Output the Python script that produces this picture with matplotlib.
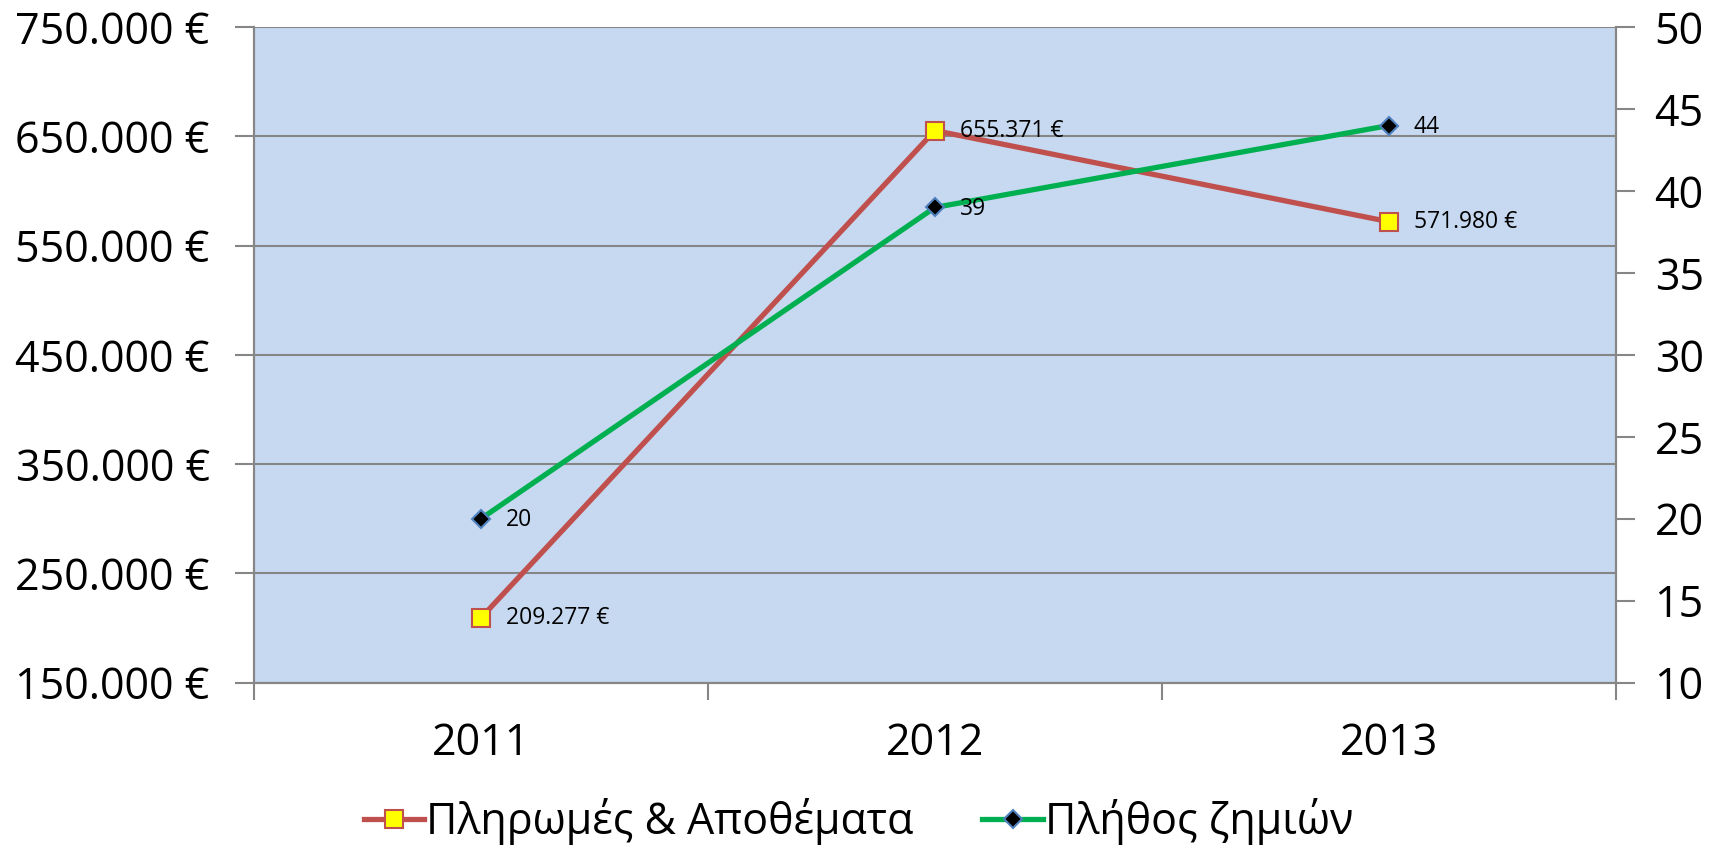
import matplotlib
matplotlib.use("Agg")
import matplotlib.pyplot as plt
from matplotlib.ticker import FuncFormatter, MultipleLocator, FixedLocator, NullFormatter

plt.rcParams['font.family'] = ['Open Sans', 'DejaVu Sans']

years = ["2011", "2012", "2013"]
payments = [209277, 655371, 571980]
claims = [20, 39, 44]
pay_name = "Πληρωμές & Αποθέματα"
claims_name = "Πλήθος ζημιών"

def euro(v):
    return "{:,.0f} €".format(v).replace(",", ".")

fig = plt.figure(figsize=(17.17, 8.51), dpi=100)
ax = fig.add_axes([0.148, 0.198, 0.793, 0.770])
ax2 = ax.twinx()

grey = "#868686"
ax.set_facecolor("#C6D9F1")
x = list(range(len(years)))

ax.set_xlim(-0.5, len(years) - 0.5)
ax.set_ylim(150000, 750000)
ax.yaxis.set_major_locator(FixedLocator(range(150000, 750001, 100000)))
ax.yaxis.set_major_formatter(FuncFormatter(lambda v, p: euro(v)))
ax.grid(axis="y", color=grey, linewidth=1.5)
ax.set_axisbelow(True)
ax2.set_ylim(10, 50)
ax2.yaxis.set_major_locator(MultipleLocator(5))

ax.xaxis.set_major_locator(FixedLocator([i - 0.5 for i in range(len(years) + 1)]))
ax.xaxis.set_major_formatter(NullFormatter())
ax.xaxis.set_minor_locator(FixedLocator(x))
ax.xaxis.set_minor_formatter(FuncFormatter(lambda v, p: years[int(round(v))]))
ax.tick_params(axis="x", which="minor", length=0, pad=28, labelsize=31)
ax.tick_params(axis="x", which="major", length=12, width=1.5, color=grey)
ax.tick_params(axis="y", length=14, width=1.5, color=grey, labelsize=31, pad=18)
ax2.tick_params(axis="y", length=14, width=1.5, color=grey, labelsize=31, pad=14)

for a in (ax, ax2):
    for s in a.spines.values():
        s.set_color(grey)
        s.set_linewidth(1.5)
    a.spines["top"].set_visible(False)

l1, = ax.plot(x, payments, color="#C0504D", linewidth=3.8, marker="s",
              markersize=13, markerfacecolor="#FFFF00", markeredgecolor="#C0504D",
              markeredgewidth=1.5, zorder=3)
l2, = ax2.plot(x, claims, color="#00B050", linewidth=3.8, marker="D",
               markersize=9, markerfacecolor="black", markeredgecolor="#4F81BD",
               markeredgewidth=1.5, zorder=3)

for xi, v in zip(x, payments):
    ax.annotate(euro(v), (xi, v), xytext=(18, 0), textcoords="offset points",
                va="center", ha="left", fontsize=16.5)
for xi, v in zip(x, claims):
    ax2.annotate(str(v), (xi, v), xytext=(18, -1), textcoords="offset points",
                 va="center", ha="left", fontsize=16.5)

fig.legend([l1, l2], [pay_name, claims_name], loc="center", bbox_to_anchor=(0.5, 0.035),
           ncol=2, frameon=False, fontsize=31, handlelength=1.4, handletextpad=0.05,
           columnspacing=1.6)

fig.savefig("out.png", dpi=100)
